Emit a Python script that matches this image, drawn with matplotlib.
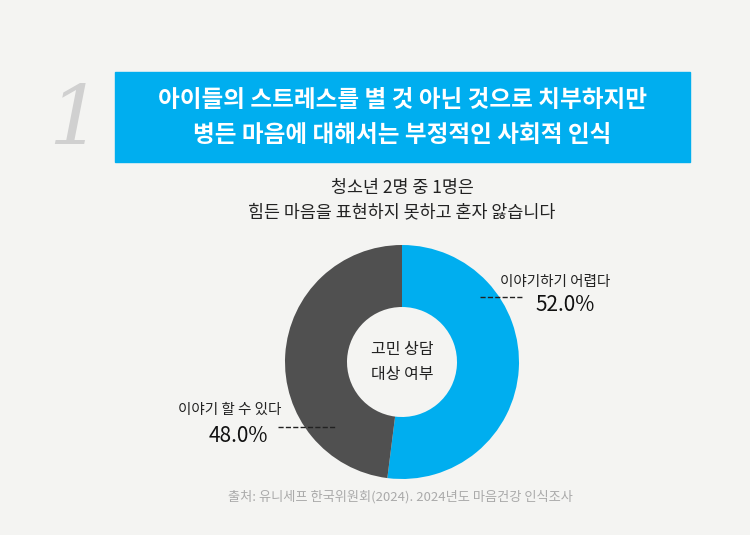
import matplotlib.pyplot as plt
from matplotlib.patches import Rectangle

plt.rcParams['font.family'] = ['Noto Sans CJK KR', 'DejaVu Sans']

labels = ['이야기하기 어렵다', '이야기 할 수 있다']
values = [52.0, 48.0]
colors = ['#00aeef', '#505050']
title_lines = ['아이들의 스트레스를 별 것 아닌 것으로 치부하지만', '병든 마음에 대해서는 부정적인 사회적 인식']
subtitle = '청소년 2명 중 1명은\n힘든 마음을 표현하지 못하고 혼자 앓습니다'
center_text = '고민 상담\n대상 여부'
source = '출처: 유니세프 한국위원회(2024). 2024년도 마음건강 인식조사'

H = 535
bg = '#f4f4f2'
fig = plt.figure(figsize=(7.5, 5.35), dpi=100, facecolor=bg)
ax = fig.add_axes([0, 0, 1, 1])
ax.set_xlim(0, 750)
ax.set_ylim(0, H)
ax.set_aspect('equal')
ax.axis('off')

def Y(y):
    return H - y

# number + title box
ax.text(75, Y(122), '1', fontsize=60, family='DejaVu Serif', style='italic',
        color='#d0d0d0', ha='center', va='center')
ax.add_patch(Rectangle((115, Y(162)), 575, 90, color='#00aeef'))
ax.text(402, Y(100), title_lines[0], fontsize=17, fontweight='bold', color='white', ha='center', va='center')
ax.text(402, Y(135), title_lines[1], fontsize=17, fontweight='bold', color='white', ha='center', va='center')

ax.text(402, Y(200), subtitle, fontsize=12.5, color='#222222', ha='center', va='center', linespacing=1.5)

# donut
ax.pie(values, colors=colors, startangle=90, counterclock=False,
       center=(402, Y(362)), radius=117, wedgeprops=dict(width=62, linewidth=0),
       frame=True)
ax.set_xlim(0, 750)
ax.set_ylim(0, H)
ax.axis('off')
ax.text(402, Y(362), center_text, fontsize=11.5, color='#222222', ha='center', va='center', linespacing=1.6)

# labels
ax.text(555, Y(282), labels[0], fontsize=10.5, color='#222222', ha='center', va='center')
ax.text(565, Y(305), f'{values[0]:.1f}%', fontsize=15, color='#111111', ha='center', va='center')
ax.plot([480, 522], [Y(297), Y(297)], ls='--', color='#222222', lw=1)
ax.text(230, Y(410), labels[1], fontsize=10.5, color='#222222', ha='center', va='center')
ax.text(238, Y(436), f'{values[1]:.1f}%', fontsize=15, color='#111111', ha='center', va='center')
ax.plot([278, 335], [Y(427), Y(427)], ls='--', color='#222222', lw=1)

ax.text(400, Y(497), source, fontsize=9.5, color='#aaaaaa', ha='center', va='center')

fig.savefig('out.png', dpi=100, facecolor=bg)
